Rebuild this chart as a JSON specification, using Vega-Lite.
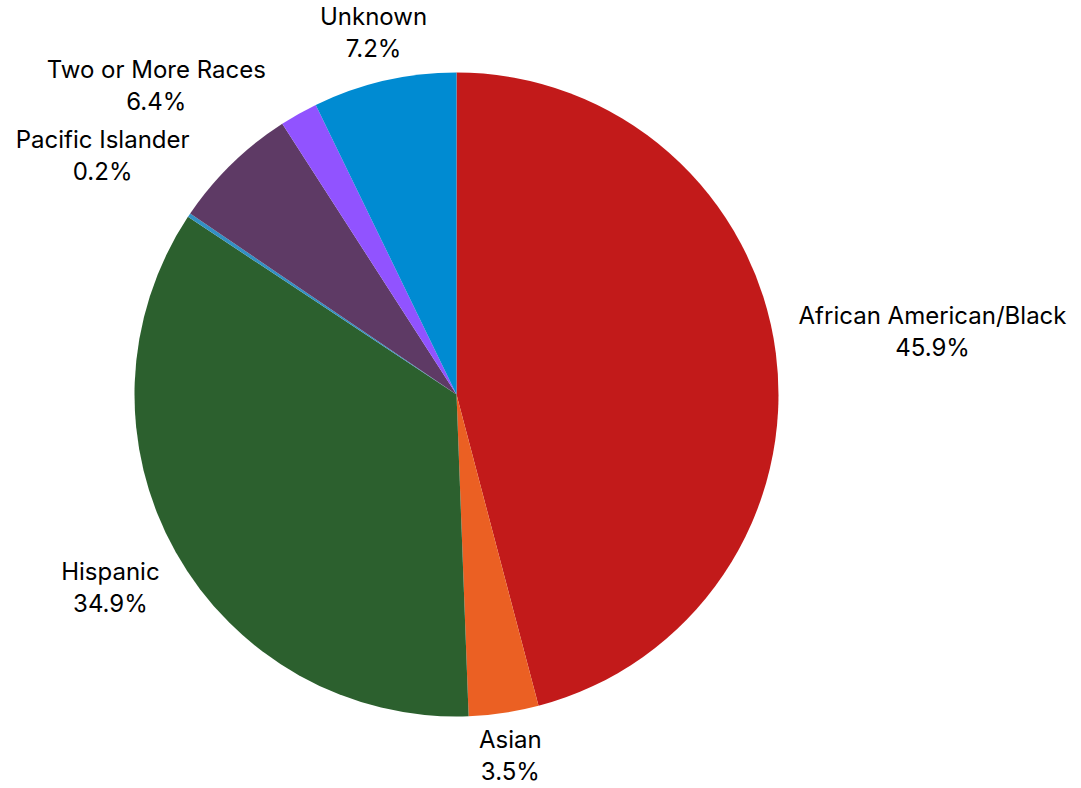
{
  "$schema": "https://vega.github.io/schema/vega-lite/v6.json",
  "width": 913,
  "height": 789,
  "autosize": {"type": "none"},
  "padding": {"left": 0, "top": 0, "right": 168, "bottom": 0},
  "background": "white",
  "config": {"view": {"stroke": null}},
  "data": {
    "values": [
      {"Race": "African American/Black", "share": 0.459, "idx": 1},
      {"Race": "Asian", "share": 0.035, "idx": 2},
      {"Race": "Hispanic", "share": 0.349, "idx": 3},
      {"Race": "Pacific Islander", "share": 0.002, "idx": 4},
      {"Race": "Two or More Races", "share": 0.064, "idx": 5},
      {"Race": "American Indian", "share": 0.019, "idx": 6},
      {"Race": "Unknown", "share": 0.072, "idx": 7}
    ]
  },
  "encoding": {
    "theta": {"field": "share", "type": "quantitative", "stack": true},
    "order": {"field": "idx", "type": "quantitative"}
  },
  "layer": [
    {
      "mark": {"type": "arc", "outerRadius": 322},
      "encoding": {
        "color": {
          "field": "Race",
          "type": "nominal",
          "legend": null,
          "scale": {
            "domain": ["African American/Black", "Asian", "Hispanic", "Pacific Islander", "Two or More Races", "American Indian", "Unknown"],
            "range": ["#C21A1A", "#EB6023", "#2C602E", "#3290C4", "#5E3A65", "#9153FF", "#008BD2"]
          }
        }
      }
    },
    {
      "mark": {"type": "text", "font": "Inter", "fontSize": 24, "color": "#000000", "dy": -16},
      "encoding": {
        "radius": {"value": {"expr": "datum.Race === 'African American/Black' ? 480 : datum.Race === 'Asian' ? 366 : datum.Race === 'Hispanic' ? 397 : datum.Race === 'Pacific Islander' ? 426 : datum.Race === 'Two or More Races' ? 430 : 370"}},
        "text": {"field": "Race", "type": "nominal"},
        "opacity": {"condition": {"test": "datum.Race === 'American Indian'", "value": 0}, "value": 1}
      }
    },
    {
      "mark": {"type": "text", "font": "Inter", "fontSize": 24, "color": "#000000", "dy": 16},
      "encoding": {
        "radius": {"value": {"expr": "datum.Race === 'African American/Black' ? 480 : datum.Race === 'Asian' ? 366 : datum.Race === 'Hispanic' ? 397 : datum.Race === 'Pacific Islander' ? 426 : datum.Race === 'Two or More Races' ? 430 : 370"}},
        "text": {"field": "share", "type": "quantitative", "format": ".1%"},
        "opacity": {"condition": {"test": "datum.Race === 'American Indian'", "value": 0}, "value": 1}
      }
    }
  ]
}
